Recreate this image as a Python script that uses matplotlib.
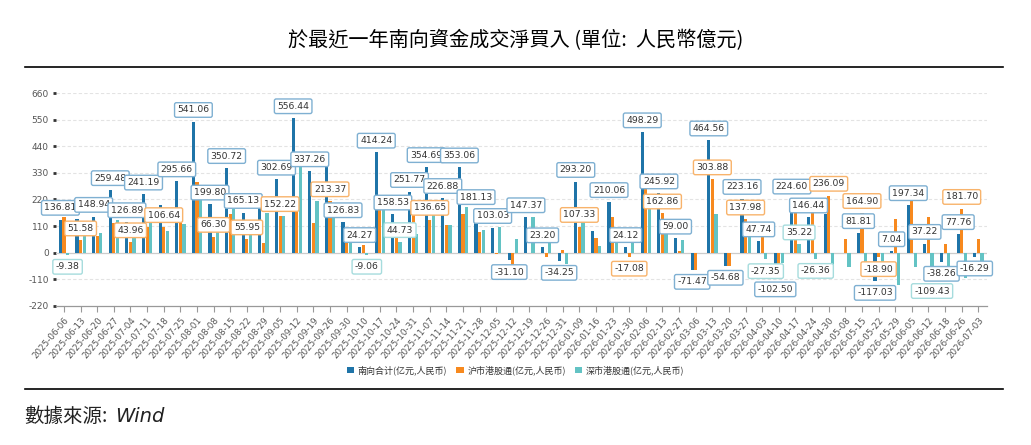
import matplotlib
matplotlib.use("Agg")
import matplotlib.pyplot as plt
import numpy as np
from matplotlib.lines import Line2D
from matplotlib.patches import Patch

plt.rcParams['font.family'] = ['DejaVu Sans', 'Noto Sans CJK SC']

dates = ['2025-06-06', '2025-06-13', '2025-06-20', '2025-06-27', '2025-07-04', '2025-07-11',
         '2025-07-18', '2025-07-25', '2025-08-01', '2025-08-08', '2025-08-15', '2025-08-22',
         '2025-08-29', '2025-09-05', '2025-09-12', '2025-09-19', '2025-09-26', '2025-09-30',
         '2025-10-10', '2025-10-17', '2025-10-24', '2025-10-31', '2025-11-07', '2025-11-14',
         '2025-11-21', '2025-11-28', '2025-12-05', '2025-12-12', '2025-12-19', '2025-12-26',
         '2025-12-31', '2026-01-09', '2026-01-16', '2026-01-23', '2026-01-30', '2026-02-06',
         '2026-02-13', '2026-02-27', '2026-03-06', '2026-03-13', '2026-03-20', '2026-03-27',
         '2026-04-03', '2026-04-10', '2026-04-17', '2026-04-24', '2026-04-30', '2026-05-08',
         '2026-05-15', '2026-05-22', '2026-05-29', '2026-06-05', '2026-06-12', '2026-06-18',
         '2026-06-26', '2026-07-03']

# 南向合计
total = [136.81, 141.0, 148.94, 259.48, 126.89, 241.19, 197.0, 295.66, 541.06, 199.80,
         350.72, 165.13, 203.0, 302.69, 556.44, 337.26, 403.0, 126.83, 24.27, 414.24,
         158.53, 251.77, 354.69, 226.88, 353.06, 181.13, 103.03, -31.10, 147.37, 23.20,
         -34.25, 293.20, 89.0, 210.06, 24.12, 498.29, 245.92, 59.00, -71.47, 464.56,
         -54.68, 223.16, 47.74, -102.50, 224.60, 146.44, 162.0, -3.0, 81.81, -117.03,
         7.04, 197.34, 37.22, -38.26, 77.76, -16.29]
# 沪市港股通
sh = [146.19, 51.58, 70.0, 124.0, 43.96, 107.0, 106.64, 181.0, 293.0, 66.30,
      161.0, 55.95, 40.0, 152.22, 203.0, 124.0, 213.37, 62.0, 33.33, 207.0,
      113.8, 175.0, 136.65, 113.0, 162.0, 85.0, -5.0, -86.0, -2.0, -16.0,
      12.0, 107.33, 62.0, 148.0, -17.08, 318.0, 162.86, 8.0, -70.0, 303.88,
      -54.0, 137.98, 75.1, -60.0, 189.4, 172.8, 236.09, 56.0, 164.90, -18.90,
      139.0, 257.0, 146.65, 37.0, 181.70, 56.0]
# 深市港股通
sz = [-9.38, 89.0, 80.0, 137.0, 83.0, 134.0, 91.0, 117.0, 248.0, 133.5,
      179.0, 109.0, 165.0, 150.47, 353.0, 213.0, 190.0, 65.0, -9.06, 207.0,
      44.73, 77.0, 200.0, 114.0, 191.0, 96.0, 108.0, 55.0, 149.0, 39.0,
      -46.0, 186.0, 27.0, 62.0, 41.2, 180.0, 83.0, 51.0, -1.5, 160.7,
      -0.7, 85.2, -27.35, -42.5, 35.22, -26.36, -74.0, -59.0, -83.1, -98.1,
      -132.0, -59.7, -109.43, -75.3, -103.9, -72.3]

# which points carry a value label
total_labels = [0, 2, 3, 4, 5, 7, 8, 9, 10, 11, 13, 14, 15, 17, 18, 19, 20, 21, 22, 23, 24,
                25, 26, 27, 28, 29, 30, 31, 33, 34, 35, 36, 37, 38, 39, 40, 41, 42, 43, 44,
                45, 48, 49, 50, 51, 52, 53, 54, 55]
sh_labels = [1, 4, 6, 9, 11, 13, 16, 22, 31, 34, 36, 39, 41, 46, 48, 49, 54]
sz_labels = [0, 18, 20, 42, 44, 45, 52]

series_names = ['南向合计(亿元,人民币)', '沪市港股通(亿元,人民币)', '深市港股通(亿元,人民币)']
colors = ['#1f74a8', '#f7891e', '#63c3c4']
edge_colors = ['#7fb0d2', '#f8b36b', '#a6dcdd']

fig = plt.figure(figsize=(10.31, 4.45), dpi=100)
ax = fig.add_axes([0.054, 0.3124, 0.903, 0.4786])

x = np.arange(len(dates))
width = 0.19
offsets = [-0.215, 0.0, 0.215]
all_series = [total, sh, sz]
all_labels = [total_labels, sh_labels, sz_labels]

for k in range(3):
    ax.bar(x + offsets[k], all_series[k], width=width, color=colors[k], zorder=3)

# value labels in small rounded boxes
for k in range(3):
    vals = all_series[k]
    for i in all_labels[k]:
        v = vals[i]
        dy = 8.5 if v >= 0 else -8.5
        ax.annotate('{:.2f}'.format(v), (x[i] + offsets[k], v), xytext=(0, dy),
                    textcoords='offset points', ha='center', va='center',
                    fontsize=6.7, color='#333333', zorder=5,
                    bbox=dict(boxstyle='round,pad=0.3,rounding_size=0.2', fc='white',
                              ec=edge_colors[k], lw=1.0))

ax.set_xlim(-0.5, len(dates) - 0.5)
ax.set_ylim(-220, 660)
yticks = np.arange(-220, 661, 110)
ax.set_yticks(yticks)
ax.set_yticklabels([str(t) for t in yticks], fontsize=6.5, color='#555555')
for t in yticks:
    if t == 0:
        ax.axhline(t, color='#cccccc', lw=0.9, zorder=2)
    elif t != -220:
        ax.axhline(t, color='#e3e3e3', lw=0.8, ls=(0, (3, 2)), zorder=1)

ax.set_xticks(x)
ax.set_xticklabels(dates, rotation=50, ha='right', rotation_mode='anchor',
                   fontsize=6.3, color='#555555')
ax.tick_params(axis='x', length=4, color='#999999', pad=3)
ax.tick_params(axis='y', length=2, width=2, color='#333333', pad=3)

for s in ['top', 'right', 'left']:
    ax.spines[s].set_visible(False)
ax.spines['bottom'].set_color('#999999')
ax.spines['bottom'].set_linewidth(0.9)

handles = [Patch(facecolor=colors[k], edgecolor='none') for k in range(3)]
fig.legend(handles, series_names, loc='center', bbox_to_anchor=(0.5, 0.168), ncol=3,
           frameon=False, handlelength=0.8, handleheight=0.8,
           handletextpad=0.4, columnspacing=1.0, labelcolor='#333333',
           prop={'family': ['Noto Sans CJK SC', 'DejaVu Sans'], 'size': 6.5})

fig.text(0.5, 0.91, '於最近一年南向資金成交淨買入 (單位:  人民幣億元)', ha='center', va='center',
         fontsize=14.5, family=['Noto Sans CJK TC', 'DejaVu Sans'], color='black')
fig.add_artist(Line2D([0.024, 0.973], [0.849, 0.849], color='black', lw=1.2))
fig.add_artist(Line2D([0.024, 0.973], [0.126, 0.126], color='black', lw=1.2))
fig.text(0.024, 0.065, '數據來源:', ha='left', va='center', fontsize=14,
         family=['Noto Sans CJK TC', 'DejaVu Sans'], color='#222222')
fig.text(0.112, 0.065, 'Wind', ha='left', va='center', fontsize=14,
         style='italic', family='DejaVu Sans', color='#222222')

fig.savefig('out.png', dpi=100)
